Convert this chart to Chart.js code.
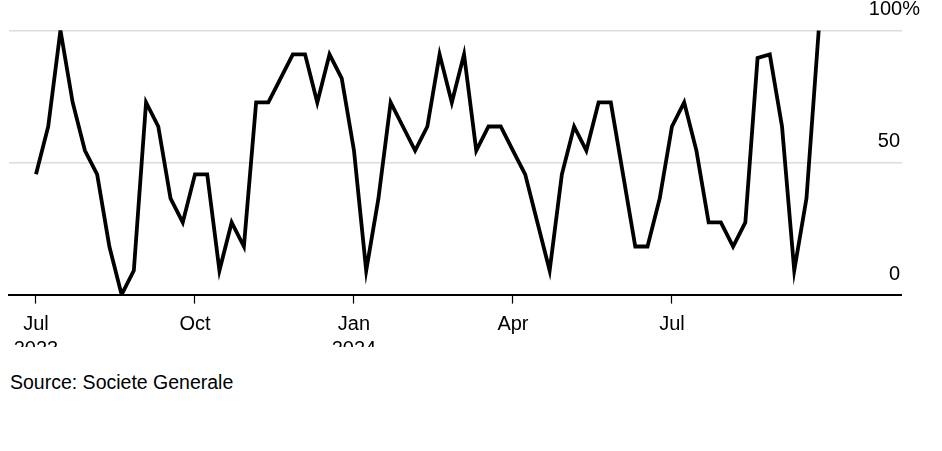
<!DOCTYPE html>
<html>
<head>
<meta charset="utf-8">
<script src="https://cdn.jsdelivr.net/npm/chart.js@4.4.1/dist/chart.umd.min.js"></script>
<style>
	body { margin: 0; background: #fff; }
	#wrap { position: relative; width: 942px; height: 347px; overflow: hidden; }
	#source {
		position: absolute; left: 10px; top: 372px;
		font-family: "Liberation Sans", Arial, sans-serif; font-size: 19.5px; line-height: 20px; color: #000;
	}
</style>
</head>
<body>
<div id="wrap"><canvas id="chart" width="942" height="378"></canvas></div>
<div id="source">Source: Societe Generale</div>
<script>
// weekly readings (Mondays), first one on startDate
var startDate = '2023-07-03';
var values = [45.5, 63.6, 100, 72.7, 54.5, 45.5, 18.2, 0, 9.1, 72.7,
	63.6, 36.4, 27.3, 45.5, 45.5, 9.1, 27.3, 18.2, 72.7, 72.7,
	81.8, 90.9, 90.9, 72.7, 90.9, 81.8, 54.5, 9.1, 36.4, 72.7,
	63.6, 54.5, 63.6, 90.9, 72.7, 90.9, 54.5, 63.6, 63.6, 54.5,
	45.5, 27.3, 9.1, 45.5, 63.6, 54.5, 72.7, 72.7, 45.5, 18.2,
	18.2, 36.4, 63.6, 72.7, 54.5, 27.3, 27.3, 18.2, 27.3, 89.5,
	90.9, 63.6, 9.1, 36.4, 100];
// ticks sit on the first reading of each quarter
var tickDates = ['2023-07-03', '2023-10-02', '2024-01-01', '2024-04-01', '2024-07-01'];
var tickLabels = [['Jul', '2023'], 'Oct', ['Jan', '2024'], 'Apr', 'Jul'];
var yTicks = [0, 50, 100];
var yLabels = ['0\u2003', '50\u2003', '100%'];

var fontFamily = '"Liberation Sans", Arial, Helvetica, sans-serif';

function dayNum(s) {
	return (Date.parse(s) - Date.parse(startDate)) / 86400000;
}
var tickDays = tickDates.map(dayNum);
var points = values.map(function (v, i) { return { x: i * 7, y: v }; });

new Chart(document.getElementById('chart'), {
	type: 'line',
	data: {
		datasets: [{
			data: points,
			borderColor: '#000',
			borderWidth: 3.8,
			pointRadius: 0,
			tension: 0,
			fill: false
		}]
	},
	options: {
		responsive: false,
		animation: false,
		layout: { padding: { left: 9, right: 3.7, top: 27.6, bottom: 8.4 } },
		plugins: { legend: { display: false }, tooltip: { enabled: false } },
		scales: {
			x: {
				type: 'linear',
				min: -15.45,
				max: 495.5,
				afterBuildTicks: function (scale) {
					scale.ticks = tickDays.map(function (d) { return { value: d }; });
				},
				ticks: {
					autoSkip: false,
					maxRotation: 0,
					padding: 8,
					color: '#000',
					font: { family: fontFamily, size: 20, lineHeight: 1.25 },
					callback: function (v) { return tickLabels[tickDays.indexOf(v)]; }
				},
				grid: { drawOnChartArea: false, drawTicks: true, tickLength: 9, tickColor: '#000', tickWidth: 1.2 },
				border: { display: true, color: '#000', width: 2 }
			},
			y: {
				position: 'right',
				min: 0,
				max: 100,
				afterBuildTicks: function (scale) {
					scale.ticks = yTicks.map(function (v) { return { value: v }; });
				},
				ticks: {
					mirror: true,
					padding: 18.3,
					labelOffset: -20.5,
					crossAlign: 'near',
					color: '#000',
					font: { family: fontFamily, size: 20 },
					callback: function (v) { return yLabels[yTicks.indexOf(v)]; }
				},
				grid: {
					drawTicks: false,
					lineWidth: 1.5,
					color: function (c) { return c.tick && c.tick.value === 0 ? 'rgba(0,0,0,0)' : '#dcdcdc'; }
				},
				border: { display: false }
			}
		}
	}
});
</script>
</body>
</html>
